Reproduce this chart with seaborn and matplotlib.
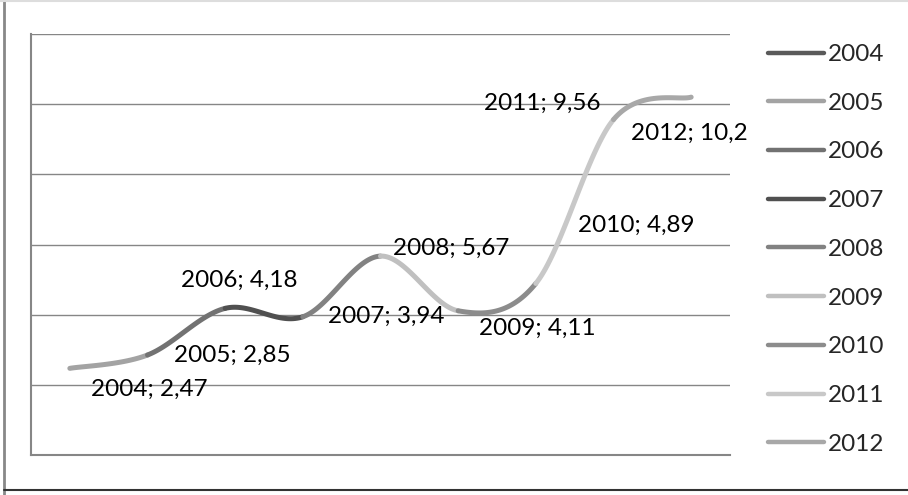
import matplotlib.pyplot as plt
import numpy as np
import seaborn as sns
from matplotlib.lines import Line2D

# dados
anos = ['2004', '2005', '2006', '2007', '2008', '2009', '2010', '2011', '2012']
valores = [2.47, 2.85, 4.18, 3.94, 5.67, 4.11, 4.89, 9.56, 10.2]
cores = ['#5a5a5a', '#a3a3a3', '#727272', '#505050', '#828282',
         '#c0c0c0', '#8c8c8c', '#c8c8c8', '#a8a8a8']

# deslocamento dos rótulos (pixels, em relação ao ponto)
desloc = [(21, -21), (27, 0), (-44, 28), (25, 0), (13, 8),
          (21, -18), (42, 58), (-130, 16), (-60, -36)]

sns.set_theme(style="white")
plt.rcParams['font.family'] = ['Lato', 'DejaVu Sans']

fig = plt.figure(figsize=(9.08, 4.95), dpi=100)
ax = fig.add_axes([31 / 908, 1 - 455 / 495, 699 / 908, 421 / 495])

# curva suavizada (bezier tipo catmull-rom)
x = np.arange(len(valores), dtype=float)
y = np.array(valores)
xp = np.concatenate([[x[0]], x, [x[-1]]])
yp = np.concatenate([[y[0]], y, [y[-1]]])
t = np.linspace(0, 1, 40)
for i in range(len(valores) - 1):
    p0 = np.array([x[i], y[i]])
    p3 = np.array([x[i + 1], y[i + 1]])
    p1 = p0 + (np.array([xp[i + 2], yp[i + 2]]) - np.array([xp[i], yp[i]])) / 6
    p2 = p3 - (np.array([xp[i + 3], yp[i + 3]]) - np.array([xp[i + 1], yp[i + 1]])) / 6
    seg = ((1 - t)[:, None] ** 3 * p0 + 3 * ((1 - t) ** 2 * t)[:, None] * p1
           + 3 * ((1 - t) * t ** 2)[:, None] * p2 + (t ** 3)[:, None] * p3)
    sns.lineplot(x=seg[:, 0], y=seg[:, 1], ax=ax, color=cores[i + 1], lw=3.6,
                 sort=False, estimator=None, solid_capstyle='round', zorder=3)

for i, (a, v) in enumerate(zip(anos, valores)):
    ax.annotate(f'{a}; {str(v).replace(".", ",")}', (x[i], v), xytext=desloc[i],
                textcoords='offset pixels', ha='left', va='center',
                fontsize=17.5, color='black', zorder=4)

ax.set_xlim(-0.5, 8.5)
ax.set_ylim(0, 12)
ax.set_yticks(np.arange(0, 13, 2))
ax.set_xticks([])
ax.set_yticklabels([])
ax.tick_params(left=False, bottom=False)
ax.grid(axis='y', color='#868686', lw=1.0)
for s in ['top', 'right']:
    ax.spines[s].set_visible(False)
for s in ['left', 'bottom']:
    ax.spines[s].set_color('#868686')
    ax.spines[s].set_linewidth(1.5)

# legenda
handles = [Line2D([0], [0], color=c, lw=3.2, solid_capstyle='round') for c in cores]
fig.legend(handles, anos, loc='upper left', bbox_to_anchor=(768 / 908, 1 - 44 / 495),
           frameon=False, fontsize=17.5, handlelength=2.3, handletextpad=0.18,
           labelspacing=1.14, borderpad=0, borderaxespad=0)

# moldura externa
fig.add_artist(Line2D([4 / 908, 4 / 908], [0, 1], color='#888888', lw=2))
fig.add_artist(Line2D([0, 1], [1 - 1 / 495, 1 - 1 / 495], color='#dddddd', lw=1.5))
fig.add_artist(Line2D([4 / 908, 1], [1 - 490 / 495, 1 - 490 / 495], color='#333333', lw=1.5))

fig.savefig('out.png', dpi=100)
